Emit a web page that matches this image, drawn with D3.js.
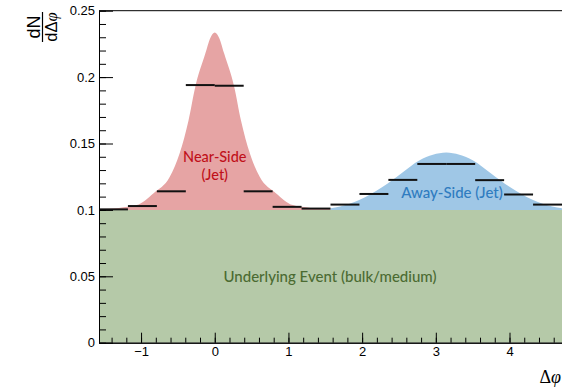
<!DOCTYPE html>
<html>
<head>
<meta charset="utf-8">
<script src="https://cdn.jsdelivr.net/npm/d3@7"></script>
<style>
  html, body { margin: 0; padding: 0; background: #fff; }
  svg { display: block; }
</style>
</head>
<body>
<svg id="chart" width="562" height="387"></svg>
<script>
// Bin contents of the Δφ histogram (16 bins of π/8 from −π/2 to 3π/2)
const binValues = [0.1004, 0.1029, 0.1140, 0.1940, 0.1935, 0.1140, 0.1023, 0.1010,
                   0.1040, 0.1120, 0.1226, 0.1346, 0.1346, 0.1224, 0.1116, 0.1040];

// Near-side jet peak (around Δφ = 0)
const nearX = [-1.571, -1.30, -1.06, -0.83, -0.61, -0.476, -0.356, -0.265, -0.129, -0.06, 0,
               0.06, 0.129, 0.265, 0.356, 0.476, 0.61, 0.83, 1.06, 1.30, 1.571];
const nearY = [0.1006, 0.1015, 0.1036, 0.1126, 0.1249, 0.1426, 0.1674, 0.1924, 0.2175, 0.2295, 0.2335,
               0.2295, 0.2175, 0.1924, 0.1674, 0.1426, 0.1249, 0.1126, 0.1036, 0.1015, 0.1006];

// Away-side jet peak (around Δφ = π)
const awayX = [1.571, 1.70, 1.96, 2.28, 2.53, 2.78, 2.96, 3.1416, 3.32, 3.50, 3.75, 4.00, 4.32, 4.58, 4.712];
const awayY = [0.1013, 0.1025, 0.1074, 0.1174, 0.1274, 0.1374, 0.1415, 0.1432, 0.1415, 0.1374, 0.1274, 0.1174, 0.1074, 0.1025, 0.1013];

// Flat underlying-event pedestal
const pedestal = 0.1;

// Axis ticks
const xTicks = [-1, 0, 1, 2, 3, 4];
const xTickLabels = ["\u22121", "0", "1", "2", "3", "4"];
const yTicks = [0, 0.05, 0.1, 0.15, 0.2, 0.25];
const yTickLabels = ["0", "0.05", "0.1", "0.15", "0.2", "0.25"];

const W = 562, H = 387;
const m = { left: 99, right: 0, top: 10.7, bottom: 44.3 };
const xMin = -Math.PI / 2, xMax = 3 * Math.PI / 2;

const svg = d3.select("#chart");
const x = d3.scaleLinear().domain([xMin, xMax]).range([m.left, W - m.right]);
const y = d3.scaleLinear().domain([0, 0.25]).range([H - m.bottom, m.top]);

// Underlying event band
svg.append("rect")
  .attr("x", x(xMin)).attr("y", y(pedestal))
  .attr("width", x(xMax) - x(xMin)).attr("height", y(0) - y(pedestal))
  .attr("fill", "#b5c9a8");

// Jet peaks sitting on the pedestal
const area = d3.area()
  .x(d => x(d[0])).y0(y(pedestal)).y1(d => y(d[1]))
  .curve(d3.curveMonotoneX);

svg.append("path")
  .datum(nearX.map((v, i) => [v, nearY[i]]))
  .attr("d", area).attr("fill", "#e6a4a4");

svg.append("path")
  .datum(awayX.map((v, i) => [v, awayY[i]]))
  .attr("d", area).attr("fill", "#9fc7e6");

// Histogram bin contents as horizontal segments
const binW = (xMax - xMin) / binValues.length;
svg.append("g").selectAll("line").data(binValues).join("line")
  .attr("x1", (d, i) => x(xMin + i * binW))
  .attr("x2", (d, i) => x(xMin + (i + 1) * binW))
  .attr("y1", d => y(d)).attr("y2", d => y(d))
  .attr("stroke", "#111").attr("stroke-width", 2);

// Labels inside the plot
const lab = (txt, px, py, col, size) => svg.append("text")
  .attr("x", px).attr("y", py).attr("text-anchor", "middle")
  .attr("font-family", "Lato, 'Open Sans', sans-serif").attr("font-size", size)
  .attr("font-weight", 500)
  .attr("fill", col).text(txt);
lab("Near-Side", x(0), 162, "#c0101a", 14.5);
lab("(Jet)", x(0), 179.5, "#c0101a", 14.5);
lab("Away-Side (Jet)", 452, 197.5, "#2f7cc0", 15);
lab("Underlying Event (bulk/medium)", 330, 282, "#4b6b32", 15);

// Frame top line
svg.append("line")
  .attr("x1", x(xMin)).attr("x2", x(xMax))
  .attr("y1", y(0.25)).attr("y2", y(0.25))
  .attr("stroke", "#000").attr("stroke-width", 1);

const tickFont = "'Liberation Sans', Arial, Helvetica, sans-serif";

// Y axis: major and minor ticks pointing into the frame
const yMinor = d3.range(0, 0.2501, 0.01);
svg.append("g").attr("transform", `translate(${x(xMin)},0)`)
  .call(d3.axisLeft(y).tickValues(yMinor).tickSize(-7).tickSizeOuter(0).tickFormat(""))
  .call(g => g.selectAll("path,line").attr("stroke", "#000"));
svg.append("g").attr("transform", `translate(${x(xMin)},0)`)
  .call(d3.axisLeft(y).tickValues(yTicks).tickSize(-14).tickSizeOuter(0).tickPadding(4)
    .tickFormat((d, i) => yTickLabels[i]))
  .call(g => g.selectAll("path,line").attr("stroke", "#000"))
  .call(g => g.selectAll("text").attr("font-family", tickFont).attr("font-size", 13).attr("fill", "#000"));

// X axis
const xMinor = d3.range(-1.4, 4.7, 0.2);
svg.append("g").attr("transform", `translate(0,${y(0)})`)
  .call(d3.axisBottom(x).tickValues(xMinor).tickSize(-5).tickSizeOuter(0).tickFormat(""))
  .call(g => g.selectAll("path,line").attr("stroke", "#000"));
svg.append("g").attr("transform", `translate(0,${y(0)})`)
  .call(d3.axisBottom(x).tickValues(xTicks).tickSize(-10).tickSizeOuter(0).tickPadding(4)
    .tickFormat((d, i) => xTickLabels[i]))
  .call(g => g.selectAll("path,line").attr("stroke", "#000"))
  .call(g => g.selectAll("text").attr("font-family", tickFont).attr("font-size", 13).attr("fill", "#000"));

// X axis title: Δφ
const xt = svg.append("text").attr("x", 561).attr("y", 382.5).attr("text-anchor", "end")
  .attr("font-family", "'Liberation Serif', 'Times New Roman', serif").attr("font-size", 18).attr("fill", "#000");
xt.append("tspan").text("\u0394");
xt.append("tspan").attr("font-style", "italic").text("\u03c6");

// Y axis title: dN / dΔφ as a rotated fraction
const yt = svg.append("g").attr("transform", "translate(42.5,27) rotate(-90)");
yt.append("text").attr("x", 0).attr("y", -2.5).attr("text-anchor", "middle")
  .attr("font-family", tickFont).attr("font-size", 18).attr("fill", "#000").text("dN");
yt.append("line").attr("x1", -15).attr("x2", 15).attr("y1", 0).attr("y2", 0)
  .attr("stroke", "#000").attr("stroke-width", 1.2);
const den = yt.append("text").attr("x", 0).attr("y", 14.5).attr("text-anchor", "middle")
  .attr("font-family", tickFont).attr("font-size", 16.5).attr("fill", "#000");
den.append("tspan").text("d\u0394");
den.append("tspan").attr("font-family", "'Liberation Serif', serif").attr("font-style", "italic").text("\u03c6");
</script>
</body>
</html>
